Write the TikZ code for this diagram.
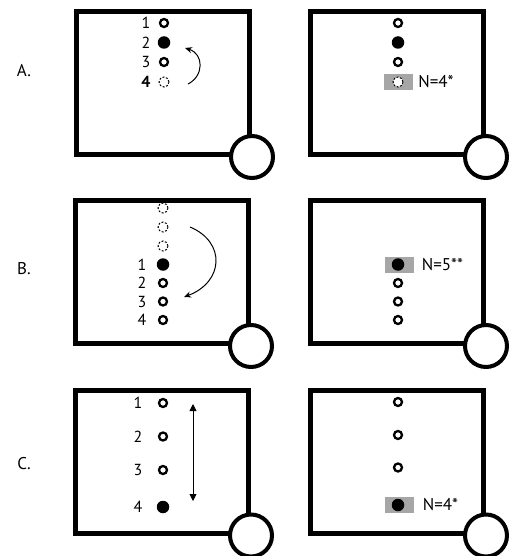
\documentclass[tikz,border=0pt]{standalone}
\usepackage{fontspec}
\setmainfont{PT Sans}
\usetikzlibrary{arrows.meta}
\tikzset{
  panel/.style={draw, line width=5pt, minimum width=173pt, minimum height=143pt, inner sep=0pt},
  knob/.style={circle, draw, fill=white, line width=4pt, minimum size=42pt, inner sep=0pt},
  odot/.style={circle, draw, line width=2.3pt, minimum size=8pt, inner sep=0pt},
  fdot/.style={circle, fill, minimum size=12.5pt, inner sep=0pt},
  ddot/.style={circle, draw, line width=1pt, dash pattern=on 2pt off 1.6pt, minimum size=10pt, inner sep=0pt},
  hl/.style={fill=gray!70, minimum width=29pt, minimum height=16pt, inner sep=0pt},
  num/.style={font=\fontsize{16}{16}\selectfont, inner sep=0pt},
  rowlab/.style={font=\fontsize{17}{17}\selectfont, inner sep=0pt},
  count/.style={font=\fontsize{17}{17}\selectfont, anchor=west, inner sep=0pt},
  move/.style={line width=1pt, -{Stealth[length=7pt,width=6pt]}},
  span/.style={line width=0.9pt, {Triangle[length=7pt,width=7pt]}-{Triangle[length=7pt,width=7pt]}},
}

\begin{document}
\begin{tikzpicture}[x=1pt,y=-1pt]
\useasboundingbox (0,0) rectangle (508,556);
% row A
\node[rowlab] (labA) at (24,71) {A.};
\node[panel] (boxAL) at (163,83) {};
\node[knob] (knobAL) at (boxAL.south east) {};
\node[odot] (a1) at (164,23) {};
\node[fdot] (a2) at (164,42.5) {};
\node[odot] (a3) at (164,62) {};
\node[ddot] (a4) at (164,82) {};
\node[num] (na1) at (146,23) {1};
\node[num] (na2) at (146,42.5) {2};
\node[num] (na3) at (146,62) {3};
\node[num] (na4) at (146,82) {\textbf{4}};
\coordinate (arA1) at (188,84);
\coordinate (arA2) at (185,48);
\draw[move] (arA1) .. controls (204,76) and (204,54) .. (arA2);
\node[panel] (boxAR) at (397,83) {};
\node[knob] (knobAR) at (boxAR.south east) {};
\node[odot] (b1) at (398,23) {};
\node[fdot] (b2) at (398,42.5) {};
\node[odot] (b3) at (398,62) {};
\node[hl] (hlA) at (398.5,82) {};
\node[ddot, fill=white] (b4) at (398,82) {};
\node[count] (cntA) at ([xshift=5pt]hlA.east) {N=4*};
% row B
\node[rowlab] (labB) at (24,269) {B.};
\node[panel] (boxBL) at (162,272) {};
\node[knob] (knobBL) at (boxBL.south east) {};
\node[ddot] (c0) at (163,208) {};
\node[ddot] (c00) at (163,227) {};
\node[ddot] (c000) at (163,246) {};
\node[fdot] (c1) at (163,264.5) {};
\node[odot] (c2) at (163,283) {};
\node[odot] (c3) at (163,301.5) {};
\node[odot] (c4) at (163,320) {};
\node[num] (nc1) at (142,264.5) {1};
\node[num] (nc2) at (142,283) {2};
\node[num] (nc3) at (142,301.5) {3};
\node[num] (nc4) at (142,320) {4};
\coordinate (arB1) at (190,227);
\coordinate (arB2) at (184,297);
\draw[move] (arB1) .. controls (226,242) and (224,282) .. (arB2);
\node[panel] (boxBR) at (397,272) {};
\node[knob] (knobBR) at (boxBR.south east) {};
\node[hl] (hlB) at (399,264.5) {};
\node[fdot] (d1) at (398,264.5) {};
\node[odot] (d2) at (398,283) {};
\node[odot] (d3) at (398,301.5) {};
\node[odot] (d4) at (398,320) {};
\node[count] (cntB) at ([xshift=8pt]hlB.east) {N=5**};
% row C
\node[rowlab] (labC) at (24,464) {C.};
\node[panel] (boxCL) at (162,461.5) {};
\node[knob] (knobCL) at (boxCL.south east) {};
\node[odot] (e1) at (163,403) {};
\node[odot] (e2) at (163,436.5) {};
\node[odot] (e3) at (163,470) {};
\node[fdot] (e4) at (163,507) {};
\node[num] (ne1) at (138,403) {1};
\node[num] (ne2) at (138,436.5) {2};
\node[num] (ne3) at (138,470) {3};
\node[num] (ne4) at (138,507) {4};
\coordinate (arC1) at (193,404);
\coordinate (arC2) at (193,501);
\draw[span] (arC1) -- (arC2);
\node[panel] (boxCR) at (397,461.5) {};
\node[knob] (knobCR) at (boxCR.south east) {};
\node[odot] (f1) at (398,402) {};
\node[odot] (f2) at (398,435) {};
\node[odot] (f3) at (398,467.5) {};
\node[hl] (hlC) at (399,505) {};
\node[fdot] (f4) at (398,505) {};
\node[count] (cntC) at ([xshift=9pt]hlC.east) {N=4*};
\end{tikzpicture}
\end{document}
